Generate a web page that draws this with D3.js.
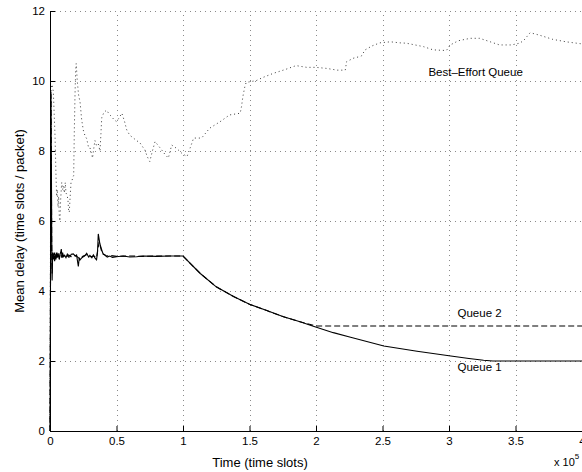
<!DOCTYPE html>
<html><head><meta charset="utf-8">
<script src="https://cdn.jsdelivr.net/npm/d3@7/dist/d3.min.js"></script>
<style>
body{margin:0;background:#fff;}
svg{display:block;font-family:"Liberation Sans",Arial,Helvetica,sans-serif;}
</style></head>
<body>
<svg id="c" width="582" height="472"></svg>
<script>
// ---- data (time in units of 1e5 time slots) ----
const xTicks = [0, 0.5, 1, 1.5, 2, 2.5, 3, 3.5, 4];
const yTicks = [0, 2, 4, 6, 8, 10, 12];

const timeQ1 = [0,0.003,0.007,0.01,0.013,0.016,0.02,0.025,0.03,0.035,0.04,0.045,0.05,0.055,0.06,0.065,0.07,0.075,0.08,0.085,0.09,0.095,0.1,0.11,0.12,0.13,0.14,0.15,0.16,0.175,0.19,0.2,0.207,0.213,0.22,0.226,0.24,0.25,0.26,0.276,0.29,0.3,0.315,0.326,0.34,0.35,0.357,0.363,0.375,0.389,0.4,0.414,0.43,0.45,0.47,0.5,0.55,0.6,0.65,0.7,0.8,0.9,1.0,1.13,1.25,1.38,1.5,1.63,1.75,1.88,1.98,2.13,2.26,2.51,2.76,3.0,3.15,3.26,3.33,4.0];
const delayQ1 = [0,3.0,9.7,8.0,5.5,4.3,5.1,4.9,5.05,4.85,5.0,4.9,5.1,4.95,5.05,5.0,4.9,5.03,5.1,5.2,4.95,5.1,4.98,5.02,4.95,5.05,4.97,4.98,5.05,5.06,5.0,5.03,4.85,4.7,4.95,4.89,4.95,4.98,5.0,5.08,4.97,5.02,4.95,5.03,4.93,4.89,5.1,5.63,5.35,5.17,5.05,5.03,4.97,5.0,4.96,4.98,5.0,4.97,4.98,5.0,4.99,5.0,5.0,4.5,4.12,3.84,3.62,3.44,3.27,3.12,2.99,2.81,2.68,2.43,2.28,2.15,2.07,2.02,2.0,2.0];

const timeQ2 = [0,0.003,0.007,0.01,0.013,0.016,0.02,0.025,0.03,0.035,0.04,0.045,0.05,0.055,0.06,0.065,0.07,0.08,0.09,0.1,0.12,0.14,0.16,0.18,0.2,0.22,0.25,0.28,0.3,0.33,0.35,0.36,0.37,0.39,0.42,0.46,0.5,0.6,0.7,0.8,0.9,1.0,1.13,1.25,1.38,1.5,1.63,1.75,1.88,2.0,4.0];
const delayQ2 = [0,3.2,9.6,7.6,5.2,4.5,5.0,5.05,4.95,5.1,4.95,5.05,4.92,5.05,4.98,5.08,4.95,5.05,4.97,5.02,4.96,5.03,4.98,5.02,4.99,4.93,5.0,5.04,4.98,5.0,4.95,5.2,5.4,5.1,5.0,5.01,4.99,5.0,4.99,5.0,5.0,5.0,4.5,4.12,3.84,3.62,3.44,3.27,3.12,3.0,3.0];

const timeBE = [0,0.004,0.008,0.015,0.025,0.032,0.038,0.045,0.05,0.055,0.06,0.065,0.07,0.075,0.08,0.088,0.095,0.1,0.108,0.115,0.12,0.128,0.135,0.14,0.145,0.15,0.158,0.165,0.172,0.178,0.183,0.188,0.193,0.197,0.205,0.215,0.226,0.238,0.25,0.262,0.276,0.29,0.3,0.31,0.32,0.33,0.338,0.35,0.363,0.376,0.383,0.389,0.405,0.426,0.445,0.464,0.48,0.5,0.52,0.54,0.56,0.577,0.6,0.627,0.65,0.677,0.7,0.714,0.73,0.75,0.77,0.79,0.815,0.84,0.865,0.89,0.915,0.95,0.99,1.03,1.055,1.08,1.14,1.2,1.28,1.35,1.43,1.44,1.45,1.465,1.475,1.55,1.6,1.68,1.77,1.85,1.93,2.0,2.08,2.16,2.22,2.23,2.28,2.34,2.37,2.42,2.48,2.56,2.63,2.68,2.81,2.88,2.98,3.01,3.07,3.16,3.23,3.31,3.38,3.47,3.53,3.56,3.61,3.68,3.78,3.88,4.0];
const delayBE = [0,6.0,9.8,9.9,9.7,9.0,8.4,7.3,6.7,6.9,6.4,6.7,6.1,6.0,6.6,7.1,6.9,7.0,6.8,7.1,6.8,6.75,6.6,6.3,6.25,6.6,7.1,7.15,7.25,7.3,8.6,9.6,10.3,10.5,10.0,9.6,9.4,8.9,8.6,8.45,8.35,8.1,8.1,7.95,7.8,8.1,8.3,8.15,8.2,8.0,8.5,8.95,9.1,9.17,9.05,8.98,8.9,8.84,8.95,9.08,8.85,8.6,8.45,8.37,8.3,8.23,8.1,8.03,7.85,7.7,8.0,8.27,8.15,8.03,7.9,7.8,8.17,8.08,7.94,7.84,8.1,8.37,8.37,8.65,8.84,9.03,9.08,9.27,9.55,9.84,9.96,10.01,10.1,10.22,10.33,10.44,10.39,10.39,10.36,10.31,10.31,10.55,10.65,10.71,10.89,11.0,11.09,11.12,11.09,11.08,10.98,10.89,10.87,11.03,11.15,11.22,11.22,11.12,11.03,11.03,11.08,11.15,11.38,11.31,11.19,11.12,11.06];

const seriesLabels = ["Best\u2013Effort Queue", "Queue 2", "Queue 1"];
const labelPos = [[3.2, 10.14], [3.23, 3.27], [3.23, 1.71]];

// ---- layout ----
const svg = d3.select("#c");
const L = 50, R = 582, T = 11, B = 431;
const x = d3.scaleLinear().domain([0, 4]).range([L, R]);
const y = d3.scaleLinear().domain([0, 12]).range([B, T]);

// grid
const grid = svg.append("g").attr("stroke", "#8a8a8a").attr("stroke-width", 1).attr("stroke-dasharray", "1,4");
grid.selectAll(".gx").data(xTicks.filter(d => d > 0)).join("line")
  .attr("x1", d => Math.round(x(d)) + 0.5).attr("x2", d => Math.round(x(d)) + 0.5)
  .attr("y1", B).attr("y2", T);
grid.selectAll(".gy").data(yTicks.filter(d => d > 0)).join("line")
  .attr("y1", d => Math.round(y(d)) + 0.5).attr("y2", d => Math.round(y(d)) + 0.5)
  .attr("x1", L).attr("x2", R);

const fmt = d3.format("~g");

// lines
const mk = (xs, ys) => xs.map((t, i) => [t, ys[i]]);
const line = d3.line().x(d => x(d[0])).y(d => y(d[1]));

svg.append("path").datum(mk(timeBE, delayBE)).attr("d", line)
  .attr("fill", "none").attr("stroke", "#3a3a3a").attr("stroke-width", 1)
  .attr("stroke-dasharray", "1,3");
svg.append("path").datum(mk(timeQ2, delayQ2)).attr("d", line)
  .attr("fill", "none").attr("stroke", "#000").attr("stroke-width", 1.1)
  .attr("stroke-dasharray", "6,3");
svg.append("path").datum(mk(timeQ1, delayQ1)).attr("d", line)
  .attr("fill", "none").attr("stroke", "#000").attr("stroke-width", 1.1);

// axes
const xAxis = d3.axisBottom(x).tickValues(xTicks).tickFormat(fmt)
  .tickSizeInner(-5).tickSizeOuter(0).tickPadding(6);
const gx = svg.append("g").attr("transform", `translate(0,${B})`).call(xAxis);
gx.selectAll("text").attr("dy", "0.71em").attr("y", 6);

const yAxis = d3.axisLeft(y).tickValues(yTicks).tickFormat(fmt)
  .tickSizeInner(-5).tickSizeOuter(0).tickPadding(5);
const gy = svg.append("g").attr("transform", `translate(${L},0)`).call(yAxis);
gy.selectAll("text").attr("x", -5);

[gx, gy].forEach(g => {
  g.selectAll("text").attr("font-size", 11.5).attr("font-family", "Liberation Sans, Arial, sans-serif").attr("fill", "#000");
  g.selectAll("path,line").attr("stroke", "#000");
});

// labels
svg.append("text").attr("x", 260).attr("y", 467).attr("text-anchor", "middle")
  .attr("font-size", 13).text("Time (time slots)");
const ex = svg.append("text").attr("x", 554).attr("y", 466).attr("font-size", 11);
ex.append("tspan").text("x 10");
ex.append("tspan").attr("dy", -7).attr("font-size", 8).text("5");

svg.append("text").attr("transform", `translate(24,${(T + B) / 2}) rotate(-90)`)
  .attr("text-anchor", "middle").attr("font-size", 13).text("Mean delay (time slots / packet)");

svg.selectAll(".lbl").data(seriesLabels).join("text")
  .attr("x", (d, i) => x(labelPos[i][0])).attr("y", (d, i) => y(labelPos[i][1]))
  .attr("text-anchor", "middle").attr("font-size", 11.5).text(d => d);
</script>
</body></html>
